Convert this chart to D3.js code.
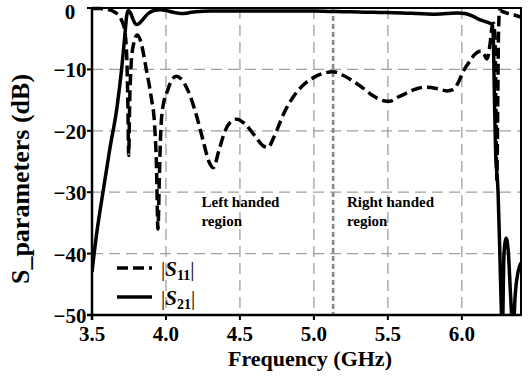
<!DOCTYPE html>
<html><head><meta charset="utf-8">
<script src="https://cdn.jsdelivr.net/npm/d3@7"></script>
<style>body{margin:0;background:#fff}</style>
</head><body>
<svg id="c" width="528" height="382"></svg>
<script>
// ---- data ----
const freqS11 = [3.50,3.55,3.60,3.64,3.68,3.70,3.72,3.735,3.742,3.748,3.755,3.765,3.78,3.806,3.83,3.867,3.90,3.923,3.935,3.946,3.955,3.965,3.98,4.01,4.04,4.07,4.10,4.15,4.20,4.25,4.29,4.32,4.36,4.40,4.45,4.48,4.53,4.60,4.66,4.69,4.73,4.80,4.86,4.93,5.00,5.07,5.13,5.20,5.27,5.33,5.40,5.47,5.51,5.57,5.63,5.70,5.76,5.83,5.90,5.94,5.975,6.01,6.05,6.09,6.13,6.15,6.17,6.19,6.205,6.215,6.225,6.23,6.237,6.243,6.248,6.255,6.27,6.30,6.35,6.40];
const valS11 = [-0.1,-0.1,-0.2,-0.5,-1.2,-2.0,-3.5,-8,-15,-24,-15,-9,-6,-4.4,-5.5,-10,-14.5,-19,-25,-36,-28,-20,-16,-13.5,-11.7,-11.1,-11.5,-13.5,-17,-21.5,-25,-26,-23,-20,-18.3,-18.1,-18.8,-20.8,-22.5,-22.7,-21,-17,-14.5,-12.5,-11.3,-10.6,-10.4,-11,-12,-13,-14.3,-15.1,-15.2,-14.5,-13.8,-13.1,-12.9,-13.1,-13.5,-13.3,-12.2,-10.3,-8.8,-7.5,-7.0,-7.5,-8.3,-6,-3,-2.5,-6,-15,-28,-15,-4,-0.3,-0.5,-0.8,-1.1,-1.5];
const freqS21 = [3.50,3.53,3.574,3.62,3.67,3.70,3.72,3.735,3.745,3.76,3.78,3.80,3.82,3.85,3.88,3.92,3.96,4.00,4.05,4.10,4.15,4.20,4.30,4.50,4.80,5.00,5.10,5.20,5.30,5.40,5.50,5.60,5.70,5.80,5.90,5.97,6.02,6.07,6.12,6.17,6.205,6.213,6.22,6.228,6.245,6.257,6.268,6.274,6.285,6.30,6.315,6.33,6.347,6.36,6.38,6.40];
const valS21 = [-43,-37,-30,-23,-16,-10,-5,-1.2,-0.4,-0.8,-2.0,-2.7,-2.5,-1.7,-0.9,-0.4,-0.3,-0.4,-0.7,-0.9,-0.8,-0.6,-0.5,-0.5,-0.5,-0.5,-0.55,-0.6,-0.65,-0.7,-0.75,-0.8,-0.9,-1.0,-0.9,-0.8,-0.9,-1.3,-1.9,-2.3,-2.7,-5,-14,-23,-30,-40,-50,-53,-40,-37.5,-40,-47,-53,-47,-43,-41.5];
const xTicks = [3.5,4.0,4.5,5.0,5.5,6.0];
const yTicks = [0,-10,-20,-30,-40,-50];
const gridX = [4.0,4.5,5.0,5.5,6.0];
const gridY = [-10,-20,-30,-40];
const regionBoundary = 5.13;
const regionTexts = [{f:4.24, lines:["Left handed","region"]},{f:5.223, lines:["Right handed","region"]}];
const legendItems = [{name:"11", dash:"11,5"},{name:"21", dash:null}];

// ---- layout ----
const L=92, R=521, T=8, B=315;
const svg = d3.select("#c");
const x = d3.scaleLinear().domain([3.5,6.4]).range([L,R]);
const y = d3.scaleLinear().domain([-50,0]).range([B,T]);
const font = "'Liberation Serif','Times New Roman',serif";

// grid
svg.append("g").selectAll("line").data(gridX).join("line")
  .attr("x1",d=>x(d)).attr("x2",d=>x(d)).attr("y1",T).attr("y2",B)
  .attr("stroke","#a0a0a0").attr("stroke-width",1.3).attr("stroke-dasharray","11,6");
svg.append("g").selectAll("line").data(gridY).join("line")
  .attr("x1",L).attr("x2",R).attr("y1",d=>y(d)).attr("y2",d=>y(d))
  .attr("stroke","#a0a0a0").attr("stroke-width",1.3).attr("stroke-dasharray","11,6");

// region boundary
svg.append("line").attr("x1",x(regionBoundary)).attr("x2",x(regionBoundary))
  .attr("y1",T).attr("y2",B).attr("stroke","#888").attr("stroke-width",2.6).attr("stroke-dasharray","5,3");

// clip
svg.append("clipPath").attr("id","clip").append("rect")
  .attr("x",L).attr("y",T-3).attr("width",R-L).attr("height",B-T+3);

const line = d3.line().x(d=>x(d[0])).y(d=>y(d[1])).curve(d3.curveMonotoneX);
const d11 = freqS11.map((f,i)=>[f,valS11[i]]);
const d21 = freqS21.map((f,i)=>[f,valS21[i]]);
const plot = svg.append("g").attr("clip-path","url(#clip)");
plot.append("path").attr("d",line(d21)).attr("fill","none").attr("stroke","#000").attr("stroke-width",3.5);
plot.append("path").attr("d",line(d11)).attr("fill","none").attr("stroke","#000").attr("stroke-width",3.5).attr("stroke-dasharray","11,5");

// frame
svg.append("rect").attr("x",L).attr("y",T).attr("width",R-L).attr("height",B-T)
  .attr("fill","none").attr("stroke","#000").attr("stroke-width",2);
svg.append("line").attr("x1",L).attr("x2",L).attr("y1",T).attr("y2",B+5).attr("stroke","#000").attr("stroke-width",2.5);
svg.append("line").attr("x1",L-5).attr("x2",R).attr("y1",B).attr("y2",B).attr("stroke","#000").attr("stroke-width",2.5);

// ticks
svg.append("g").selectAll("line").data(yTicks).join("line")
  .attr("x1",L-5).attr("x2",L).attr("y1",d=>y(d)).attr("y2",d=>y(d)).attr("stroke","#000").attr("stroke-width",2);
svg.append("g").selectAll("line").data(xTicks).join("line")
  .attr("x1",d=>x(d)).attr("x2",d=>x(d)).attr("y1",B).attr("y2",B+5).attr("stroke","#000").attr("stroke-width",2);

// tick labels
svg.append("g").selectAll("text").data(yTicks).join("text")
  .attr("x",70).attr("y",d=>Math.max(y(d)+8,19)).attr("text-anchor","middle")
  .attr("font-family",font).attr("font-weight","bold").attr("font-size",21)
  .text(d=>d3.format("d")(d));
svg.append("g").selectAll("text").data(xTicks).join("text")
  .attr("x",d=>x(d)).attr("y",341).attr("text-anchor","middle")
  .attr("font-family",font).attr("font-weight","bold").attr("font-size",21)
  .text(d=>d3.format(".1f")(d));

// axis titles
svg.append("text").attr("x",310).attr("y",366).attr("text-anchor","middle")
  .attr("font-family",font).attr("font-weight","bold").attr("font-size",22)
  .text("Frequency (GHz)");
svg.append("text").attr("transform","translate(29,179) rotate(-90)").attr("text-anchor","middle")
  .attr("font-family",font).attr("font-weight","bold").attr("font-size",26)
  .text("S_parameters (dB)");

// region labels
regionTexts.forEach(r=>{
  const t = svg.append("text").attr("font-family",font).attr("font-weight","bold").attr("font-size",15);
  r.lines.forEach((s,i)=>t.append("tspan").attr("x",x(r.f)).attr("y",207+i*19).text(s));
});

// legend
legendItems.forEach((it,i)=>{
  const ly = 268 + i*29;
  svg.append("line").attr("x1",117).attr("x2",152).attr("y1",ly).attr("y2",ly)
    .attr("stroke","#000").attr("stroke-width",3.5).attr("stroke-dasharray",it.dash);
  const t = svg.append("text").attr("x",161).attr("y",ly+8)
    .attr("font-family",font).attr("font-size",21);
  t.append("tspan").text("|");
  t.append("tspan").attr("font-style","italic").attr("font-weight","bold").text("S");
  t.append("tspan").attr("font-size",14).attr("font-weight","bold").attr("dy",4).text(it.name);
  t.append("tspan").attr("dy",-4).text("|");
});
</script>
</body></html>
